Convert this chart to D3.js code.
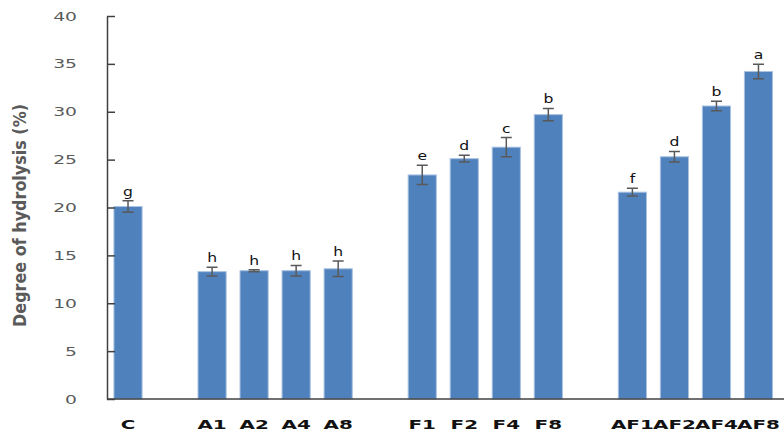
<!DOCTYPE html>
<html>
<head>
<meta charset="utf-8">
<script src="https://cdn.jsdelivr.net/npm/d3@7"></script>
<style>
  html, body { margin: 0; padding: 0; background: #fff; }
  svg { display: block; }
  text { font-family: "DejaVu Sans", Verdana, sans-serif; }
</style>
</head>
<body>
<svg id="chart" width="784" height="436"></svg>
<script>
// Treatments, in plotting order
const categories = ["C", "A1", "A2", "A4", "A8", "F1", "F2", "F4", "F8", "AF1", "AF2", "AF4", "AF8"];
// A blank slot is left before each of these to separate the treatment groups
const groupStarts = ["A1", "F1", "AF1"];
// Mean degree of hydrolysis (%)
const values = [20.1, 13.3, 13.4, 13.4, 13.6, 23.4, 25.1, 26.3, 29.7, 21.6, 25.3, 30.6, 34.2];
// Standard deviation
const errors = [0.6, 0.45, 0.1, 0.55, 0.8, 1.0, 0.35, 1.0, 0.65, 0.4, 0.55, 0.5, 0.75];
// Significance letters
const letters = ["g", "h", "h", "h", "h", "e", "d", "c", "b", "f", "d", "b", "a"];
// Y axis ticks
const yTicks = [0, 5, 10, 15, 20, 25, 30, 35, 40];

const W = 784, H = 436;
const plotLeft = 107, plotRight = 779.5, plotTop = 16, plotBottom = 399;
const SX = 1.5; // horizontal stretch applied to the text glyphs

const svg = d3.select("#chart");

// Slots: each category plus a gap slot before each new group
const slots = [];
categories.forEach((c, i) => {
  if (groupStarts.includes(c)) slots.push("gap-" + i);
  slots.push(c);
});

const x = d3.scaleBand().domain(slots).range([plotLeft, plotRight]).paddingInner(0.33).paddingOuter(0.165);
const y = d3.scaleLinear().domain([0, 40]).range([plotBottom, plotTop]);

const rows = categories.map((c, i) => ({ c, v: values[i], e: errors[i], l: letters[i] }));

// Bars
svg.append("g").selectAll("rect").data(rows).join("rect")
  .attr("x", d => x(d.c))
  .attr("y", d => y(d.v))
  .attr("width", x.bandwidth())
  .attr("height", d => y(0) - y(d.v))
  .attr("fill", "#4f81bd")
  .attr("stroke", "#a9c2e2")
  .attr("stroke-width", 1);

// Error bars
const eb = svg.append("g").attr("stroke", "#595959").attr("stroke-width", 1.5).attr("fill", "none");
const cap = 5.5;
eb.selectAll("path").data(rows).join("path")
  .attr("d", d => {
    const cx = x(d.c) + x.bandwidth() / 2;
    const y1 = y(d.v + d.e), y0 = y(d.v - d.e);
    return `M${cx - cap},${y1}H${cx + cap}M${cx},${y1}V${y0}M${cx - cap},${y0}H${cx + cap}`;
  });

// Significance letters
svg.append("g").selectAll("text").data(rows).join("text")
  .attr("transform", d => `translate(${x(d.c) + x.bandwidth() / 2},${y(d.v + d.e) - 5}) scale(1.2,1)`)
  .attr("text-anchor", "middle")
  .attr("font-size", 13)
  .attr("fill", "#111")
  .text(d => d.l);

// Y axis
const yAxis = d3.axisLeft(y).tickValues(yTicks).tickSizeInner(-8).tickSizeOuter(0).tickFormat(d3.format("d"));
const gy = svg.append("g").attr("transform", `translate(${plotLeft},0)`).call(yAxis);
gy.select(".domain").attr("stroke", "#404040").attr("stroke-width", 1.5);
gy.selectAll(".tick line").attr("stroke", "#404040").attr("stroke-width", 1.5);
gy.selectAll(".tick text")
  .attr("x", 0)
  .attr("transform", `translate(-30,0) scale(${SX},1)`)
  .attr("font-size", 12.5)
  .attr("font-family", "DejaVu Sans, sans-serif")
  .attr("fill", "#595959");

// X axis baseline
svg.append("line")
  .attr("x1", plotLeft).attr("x2", W)
  .attr("y1", y(0)).attr("y2", y(0))
  .attr("stroke", "#404040").attr("stroke-width", 1.5);

// X category labels
svg.append("g").selectAll("text").data(categories).join("text")
  .attr("transform", c => `translate(${x(c) + x.bandwidth() / 2},429) scale(1.62,1)`)
  .attr("text-anchor", "middle")
  .attr("font-size", 12.3)
  .attr("font-weight", "bold")
  .attr("fill", "#111")
  .text(c => c);

// Y axis title
svg.append("text")
  .attr("transform", `translate(26,${(plotTop + plotBottom) / 2 + 8}) scale(1.3,1) rotate(-90)`)
  .attr("text-anchor", "middle")
  .attr("font-size", 14)
  .attr("font-weight", "bold")
  .attr("textLength", 223)
  .attr("lengthAdjust", "spacingAndGlyphs")
  .attr("fill", "#5a5a5a")
  .text("Degree of hydrolysis (%)");
</script>
</body>
</html>
